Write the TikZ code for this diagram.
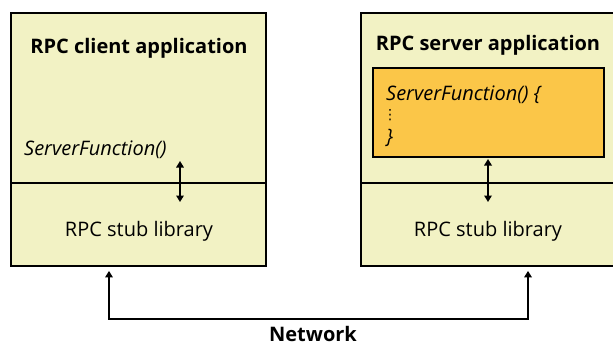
\documentclass[tikz,border=0pt]{standalone}
\usepackage{fontspec}
\setmainfont{Open Sans}
\newfontfamily\dotsfont{DejaVu Sans}
\usetikzlibrary{arrows.meta}

\definecolor{paleyellow}{RGB}{242,242,196}
\definecolor{fnorange}{RGB}{251,198,72}

\begin{document}
\begin{tikzpicture}[
    x=1pt,
    y=-1pt,
    box/.style={
        rectangle,
        draw,
        fill=paleyellow,
        line width=1.8pt,
        inner sep=0pt
    },
    fnbox/.style={
        rectangle,
        draw,
        fill=fnorange,
        line width=1.8pt,
        inner sep=0pt,
        minimum width=231pt,
        minimum height=89pt
    },
    title/.style={
        font=\fontsize{20}{24}\selectfont\bfseries
    },
    label/.style={
        font=\fontsize{20}{24}\selectfont
    },
    call/.style={
        font=\fontsize{20}{24}\selectfont\itshape,
        inner sep=0pt
    },
    link/.style={
        draw,
        {Triangle[length=6.5pt,width=7.5pt]}-{Triangle[length=6.5pt,width=7.5pt]},
        line width=1.8pt
    }
]
    \useasboundingbox (0,0) rectangle (613,345);

    % Client side
    \node [box, minimum width=255pt, minimum height=170pt] (clientapp) at (138.5,98) {};
    \node [box, minimum width=255pt, minimum height=83pt] (clientstub) at (138.5,224.5) {};
    \node [title] (clienttitle) at (139,48) {RPC client application};
    \node [call, anchor=west] (clientcall) at (24,150) {ServerFunction()};
    \node [label] (clientlib) at (139,231) {RPC stub library};

    % Server side
    \node [box, minimum width=253pt, minimum height=170pt] (serverapp) at (487.5,98) {};
    \node [box, minimum width=253pt, minimum height=83pt] (serverstub) at (487.5,224.5) {};
    \node [title] (servertitle) at (488,45) {RPC server application};
    \node [fnbox] (serverfn) at (488.5,112.5) {};
    \node [call, anchor=west] (fnhead) at (386,95) {ServerFunction() \{};
    \node [inner sep=0pt, font=\dotsfont\fontsize{14}{16}\selectfont] (fndots) at (390,115) {⋮};
    \node [call, anchor=west] (fnend) at (386,138) {\}};
    \node [label] (serverlib) at (488,231) {RPC stub library};

    % Calls into the stub libraries
    \coordinate (clientup) at (180,161);
    \coordinate (clientdown) at (180,202);
    \coordinate (serverup) at (488,159);
    \coordinate (serverdown) at (488,202);
    \path [link] (clientup) -- (clientdown);
    \path [link] (serverup) -- (serverdown);

    % Network
    \coordinate (netL) at (109,319);
    \coordinate (netR) at (528,319);
    \path [link] ([yshift=-4pt]clientstub.south -| netL) -- (netL) -- (netR)
        -- ([yshift=-4pt]serverstub.south -| netR);
    \node [title] (network) at (313,334) {Network};
\end{tikzpicture}
\end{document}
